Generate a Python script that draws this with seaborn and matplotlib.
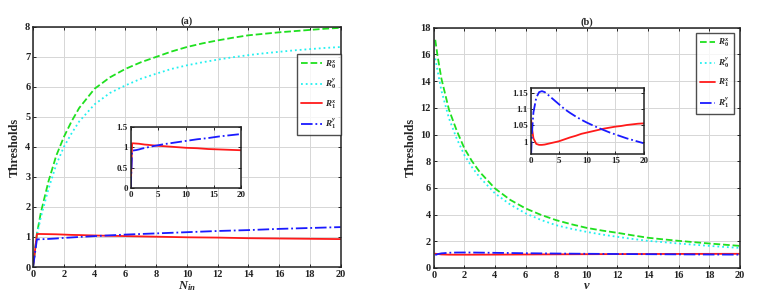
import matplotlib
matplotlib.use("Agg")
import matplotlib.pyplot as plt
import seaborn as sns

# panel (a): thresholds vs N_in
n_in = [0, 0.25, 0.5, 1, 1.5, 2, 2.5, 3, 4, 5, 6, 7, 8, 9, 10, 11, 12, 13, 14, 15, 16, 17, 18, 19, 20]
a_r0x = [0, 1.1, 1.8, 2.85, 3.7, 4.33, 4.85, 5.3, 5.94, 6.32, 6.6, 6.82, 7.0, 7.18, 7.33, 7.45, 7.55, 7.64, 7.72, 7.77, 7.82, 7.86, 7.9, 7.94, 7.97]
a_r0y = [0, 1.05, 1.65, 2.6, 3.4, 4.0, 4.45, 4.85, 5.42, 5.8, 6.05, 6.27, 6.44, 6.6, 6.72, 6.82, 6.91, 6.99, 7.06, 7.12, 7.17, 7.22, 7.26, 7.3, 7.33]
a_r1x = [0, 1.1, 1.1, 1.095, 1.09, 1.08, 1.07, 1.065, 1.05, 1.04, 1.03, 1.02, 1.01, 1.0, 0.99, 0.985, 0.98, 0.97, 0.96, 0.955, 0.95, 0.945, 0.94, 0.935, 0.93]
a_r1y = [0, 0.92, 0.925, 0.935, 0.95, 0.97, 0.985, 1.0, 1.03, 1.055, 1.08, 1.1, 1.12, 1.14, 1.16, 1.18, 1.2, 1.215, 1.23, 1.25, 1.27, 1.285, 1.3, 1.315, 1.33]

# panel (b): thresholds vs v
v = [0.1, 0.25, 0.5, 1, 1.5, 2, 2.5, 3, 4, 5, 6, 7, 8, 9, 10, 11, 12, 13, 14, 15, 16, 17, 18, 19, 20]
b_r0x = [17.1, 15.9, 14.2, 11.85, 10.3, 8.97, 8.0, 7.2, 5.96, 5.1, 4.46, 3.98, 3.58, 3.27, 3.0, 2.8, 2.63, 2.44, 2.26, 2.14, 2.03, 1.93, 1.83, 1.74, 1.65]
b_r0y = [15.7, 14.8, 13.3, 11.2, 9.7, 8.47, 7.55, 6.8, 5.59, 4.75, 4.09, 3.6, 3.2, 2.93, 2.7, 2.5, 2.33, 2.17, 2.03, 1.93, 1.83, 1.74, 1.65, 1.57, 1.5]
b_r1x = [1.065, 1.04, 1.01, 0.993, 0.99, 0.99, 0.991, 0.993, 0.997, 1.001, 1.007, 1.013, 1.018, 1.024, 1.028, 1.032, 1.036, 1.04, 1.043, 1.046, 1.048, 1.051, 1.053, 1.055, 1.056]
b_r1y = [0.965, 1.03, 1.09, 1.135, 1.152, 1.155, 1.152, 1.145, 1.13, 1.115, 1.1, 1.088, 1.077, 1.067, 1.058, 1.05, 1.042, 1.035, 1.028, 1.022, 1.016, 1.01, 1.005, 1.0, 0.995]

labels = [r"$R_0^x$", r"$R_0^y$", r"$R_1^x$", r"$R_1^y$"]
colors = ["#1fe01f", "#22f0f0", "#ff1a1a", "#1a1aff"]
styles = ["--", ":", "-", "-."]

sns.set_theme(style="whitegrid")
plt.rcParams["font.family"] = ["Liberation Serif", "DejaVu Serif"]
plt.rcParams["font.weight"] = "bold"
plt.rcParams["mathtext.fontset"] = "custom"
plt.rcParams["mathtext.rm"] = "Liberation Serif:bold"
plt.rcParams["mathtext.it"] = "Liberation Serif:italic:bold"


def style_axes(ax, fs=7.5):
    for s in ax.spines.values():
        s.set_color("#222222")
        s.set_linewidth(1.1)
    ax.tick_params(direction="in", length=2.5, width=0.7, labelsize=fs, pad=2,
                   top=True, right=True, bottom=True, left=True, colors="#222222")
    ax.grid(True, color="#d6d6d6", linewidth=0.7)
    for t in ax.get_xticklabels() + ax.get_yticklabels():
        t.set_fontweight("bold")


def draw(ax, x, series, lw=1.3):
    for y, c, ls, lab in zip(series, colors, styles, labels):
        sns.lineplot(x=x, y=y, ax=ax, color=c, linestyle=ls, linewidth=lw,
                     label=lab, sort=False, estimator=None)


def add_legend(ax, anchor, hl=2.3):
    leg = ax.legend(loc="upper right", bbox_to_anchor=anchor, fontsize=6.5,
                    frameon=True, fancybox=False, handlelength=hl, borderpad=0.45,
                    labelspacing=0.75, handletextpad=0.3, borderaxespad=0)
    leg.get_frame().set_edgecolor("#222222")
    leg.get_frame().set_linewidth(1.0)


fig = plt.figure(figsize=(7.69, 2.99), dpi=100)

# (a)
ax1 = fig.add_axes([0.043, 0.107, 0.400, 0.803])
draw(ax1, n_in, [a_r0x, a_r0y, a_r1x, a_r1y])
ax1.set_xlim(0, 20)
ax1.set_ylim(0, 8)
ax1.set_xticks(range(0, 21, 2))
ax1.set_yticks(range(0, 9))
ax1.set_title("(a)", fontsize=7.5, fontweight="bold", pad=2)
ax1.set_xlabel(r"$N_{in}$", fontsize=9, labelpad=0)
ax1.set_ylabel("Thresholds", fontsize=9, fontweight="bold", labelpad=3)
style_axes(ax1)
add_legend(ax1, (1.0, 0.8875))

ins1 = fig.add_axes([0.170, 0.371, 0.144, 0.204])
sns.lineplot(x=n_in, y=a_r1x, ax=ins1, color=colors[2], linestyle="-", linewidth=1.3)
sns.lineplot(x=n_in, y=a_r1y, ax=ins1, color=colors[3], linestyle="-.", linewidth=1.3)
ins1.set_xlim(0, 20)
ins1.set_ylim(0, 1.5)
ins1.set_xticks([0, 5, 10, 15, 20])
ins1.set_yticks([0, 0.5, 1, 1.5])
ins1.set_yticklabels(["0", "0.5", "1", "1.5"])
style_axes(ins1, fs=6.5)

# (b)
ax2 = fig.add_axes([0.564, 0.104, 0.398, 0.803])
draw(ax2, v, [b_r0x, b_r0y, b_r1x, b_r1y])
ax2.set_xlim(0, 20)
ax2.set_ylim(0, 18)
ax2.set_xticks(range(0, 21, 2))
ax2.set_yticks(range(0, 19, 2))
ax2.set_title("(b)", fontsize=7.5, fontweight="bold", pad=2)
ax2.set_xlabel(r"$v$", fontsize=9, labelpad=0)
ax2.set_ylabel("Thresholds", fontsize=9, fontweight="bold", labelpad=3)
style_axes(ax2)
add_legend(ax2, (0.98, 0.979), hl=1.7)

ins2 = fig.add_axes([0.690, 0.485, 0.147, 0.221])
sns.lineplot(x=v, y=b_r1x, ax=ins2, color=colors[2], linestyle="-", linewidth=1.3)
sns.lineplot(x=v, y=b_r1y, ax=ins2, color=colors[3], linestyle="-.", linewidth=1.3)
ins2.set_xlim(0, 20)
ins2.set_ylim(0.962, 1.165)
ins2.set_xticks([0, 5, 10, 15, 20])
ins2.set_yticks([1, 1.05, 1.1, 1.15])
ins2.set_yticklabels(["1", "1.05", "1.1", "1.15"])
style_axes(ins2, fs=6.5)

fig.savefig("out.png", dpi=100)
